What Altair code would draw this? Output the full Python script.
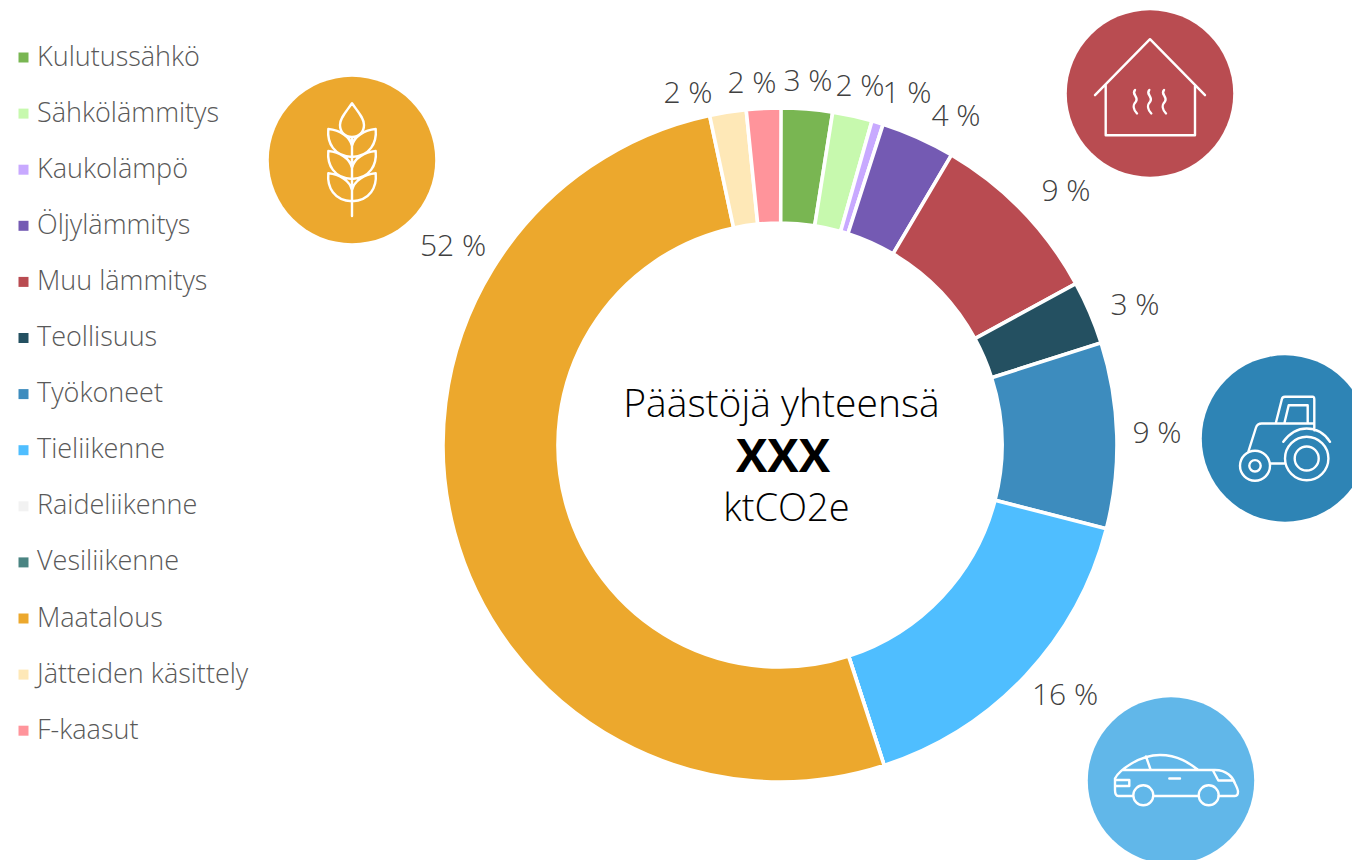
import altair as alt
import pandas as pd

FONT = "Open Sans"

categories = ["Kulutussähkö", "Sähkölämmitys", "Kaukolämpö", "Öljylämmitys", "Muu lämmitys",
              "Teollisuus", "Työkoneet", "Tieliikenne", "Raideliikenne", "Vesiliikenne",
              "Maatalous", "Jätteiden käsittely", "F-kaasut"]
shares = [2.5, 1.9, 0.55, 3.55, 8.55, 3.05, 8.9, 16.0, 0.0, 0.0, 51.65, 1.75, 1.65]
colors = ["#79B652", "#C7F9AE", "#C8A9FF", "#745AB3", "#B94B51", "#245061", "#3D8CBE",
          "#4FBEFF", "#F2F2F2", "#4A8482", "#ECA82D", "#FEE8B7", "#FF949B"]

label_texts = ["3 %", "2 %", "1 %", "4 %", "9 %", "3 %", "9 %", "16 %", "52 %", "2 %", "2 %"]
label_x = [808, 860, 907, 956, 1066, 1135, 1157, 1065, 453, 688, 752]
label_y = [82, 87, 94, 117, 192, 306, 434, 696, 247, 94, 84]

center_texts = ["Päästöjä yhteensä", "XXX", "ktCO2e"]

def ring(x, y, r):
    return f"M{x-r},{y} a{r},{r} 0 1,0 {2*r},0 a{r},{r} 0 1,0 {-2*r},0 "

def squiggle(x):
    return f"M{x},-3.5 C{x-4},1 {x+4},3 {x+1},8 C{x-3},12 {x-1},17 {x+2},20 "

def leaf(cy):
    s = ""
    for d in (-1, 1):
        s += (f"M{d*23.7},{cy} C{d*13},{cy+1} {d*2},{cy+7} 0,{cy+17} "
              f"M{d*23.7},{cy} C{d*25},{cy+14} {d*18},{cy+27} 0,{cy+28} ")
    return s

house_icon = ("M-55,1.7 L0,-54.3 L55,1.7 M-44.3,-8.3 L-44.3,41.7 L45,41.7 L45,-7.3 "
              + squiggle(-15) + squiggle(-0.7) + squiggle(14))
wheat_icon = ("M0,-56.7 C-6,-48 -12,-42 -12,-35 C-12,-28 -7,-23 0,-23 C7,-23 12,-28 12,-35 "
              "C12,-42 6,-48 0,-56.7 Z M0,-23 L0,56 " + leaf(-31) + leaf(-9) + leaf(13.3))
tractor_icon = (ring(21.7, 20, 21.7) + ring(21.7, 20, 12) + ring(-30, 27.3, 15) + ring(-30, 27.3, 5.7)
                + "M-15,25 L0.7,25 M-1.7,3.3 C5,-6 14,-10 21.7,-10 C30,-10 39,-6 45,3.3 "
                  "M-36.7,13.3 L-29,-11 C-28,-14 -26,-15 -23.3,-15 L29.3,-15 L29.3,-8.3 "
                  "M-9.3,-15 L-3.2,-39 C-3,-41 -2,-41.7 0,-41.7 L27.5,-41.7 C29,-41.7 29.3,-41 29.3,-39 L29.3,-15 "
                  "M-0.7,-15 L3.7,-33.3 L22.7,-33.3 L22.7,-15 ")
car_icon = (ring(-27.7, 14.8, 10) + ring(37.7, 14.8, 10)
            + "M-56,-2 C-52,-10 -32,-25.5 -11,-25.5 C8,-25.5 20,-16 27.3,-10.5 L44,-10.5 "
              "C56,-10.5 62,-3 64,3 C66,7 67,9 67,11 C67,14 66,15.5 64,15.5 L47.3,15.5 "
              "M-17.7,15.5 L27.3,15.5 M-38.3,15.5 L-52.7,15.5 C-55,15.5 -56,13 -56,9.5 L-56,-2 "
              "M-47.7,-10.5 L44,-10.5 M-25,-24 L-20.3,-10.5 M41.7,-10.5 L47.3,0 L62.3,0 "
              "M-1.7,-2 L9,-2 M-55,-0.5 L-41.7,-0.5 L-41.7,5.5 L-55,5.5 ")

badge_x = [1150, 352, 1285, 1171]
badge_y = [93.5, 160, 438.5, 780.5]
badge_colors = ["#B94C51", "#ECA82E", "#2E84B5", "#61B7E9"]
icon_paths = [house_icon, wheat_icon, tractor_icon, car_icon]

W, H = 1344, 852
xs = alt.Scale(domain=[8, 1352], nice=False, zero=False)
ys = alt.Scale(domain=[860, 8], nice=False, zero=False)

slices = pd.DataFrame({"cat": categories, "share": shares, "i": range(len(categories))})
ring_chart = alt.Chart(slices).mark_arc(radius=337, radius2=222, stroke="white", strokeWidth=3.6).encode(
    theta=alt.Theta("share:Q", stack=True, scale=alt.Scale(domain=[0, 100.0], range=[0, 6.28318530718])),
    order=alt.Order("i:Q"),
    color=alt.Color("cat:N", scale=alt.Scale(domain=categories, range=colors),
                    legend=alt.Legend(orient="none", legendX=2, legendY=36, title=None, symbolType="square",
                                      symbolSize=100, symbolStrokeWidth=0, labelFont=FONT, labelFontSize=27,
                                      labelFontWeight=300, labelColor="#595959", labelOffset=0, rowPadding=28.1,
                                      labelLimit=400, padding=0, values=categories)),
    x=alt.value(772), y=alt.value(437),
)

labels = alt.Chart(pd.DataFrame({"t": label_texts, "x": label_x, "y": label_y})).mark_text(
    font=FONT, fontSize=30, fontWeight=300, color="#404040").encode(
    x=alt.X("x:Q", scale=xs, axis=None), y=alt.Y("y:Q", scale=ys, axis=None), text="t:N")

c1 = alt.Chart(pd.DataFrame({"t": [center_texts[0]], "x": [781.5], "y": [405]})).mark_text(
    font=FONT, fontSize=39, fontWeight=300, color="#000000").encode(
    x=alt.X("x:Q", scale=xs, axis=None), y=alt.Y("y:Q", scale=ys, axis=None), text="t:N")
c2 = alt.Chart(pd.DataFrame({"t": [center_texts[1]], "x": [783], "y": [458]})).mark_text(
    font=FONT, fontSize=47, fontWeight=700, color="#000000").encode(
    x=alt.X("x:Q", scale=xs, axis=None), y=alt.Y("y:Q", scale=ys, axis=None), text="t:N")
c3 = alt.Chart(pd.DataFrame({"t": [center_texts[2]], "x": [786.5], "y": [510]})).mark_text(
    font=FONT, fontSize=38, fontWeight=300, color="#000000").encode(
    x=alt.X("x:Q", scale=xs, axis=None), y=alt.Y("y:Q", scale=ys, axis=None), text="t:N")

badges = alt.Chart(pd.DataFrame({"x": badge_x, "y": badge_y, "c": badge_colors})).mark_point(
    shape="circle", filled=True, size=27700, opacity=1).encode(
    x=alt.X("x:Q", scale=xs, axis=None), y=alt.Y("y:Q", scale=ys, axis=None),
    fill=alt.Fill("c:N", scale=None))

icons = []
for px, py, path in zip(badge_x, badge_y, icon_paths):
    icons.append(alt.Chart(pd.DataFrame({"x": [px], "y": [py]})).mark_point(
        shape=path, size=4, filled=False, stroke="white", strokeWidth=2.4, opacity=1,
        strokeCap="round", strokeJoin="round").encode(
        x=alt.X("x:Q", scale=xs, axis=None), y=alt.Y("y:Q", scale=ys, axis=None)))

chart = alt.layer(badges, *icons, ring_chart, labels, c1, c2, c3).properties(
    width=W, height=H, padding=0, background="white",
    autosize=alt.AutoSizeParams(type="none"),
).configure_view(stroke=None)

chart.save("out.html", embed_options={"renderer": "svg", "actions": False})
